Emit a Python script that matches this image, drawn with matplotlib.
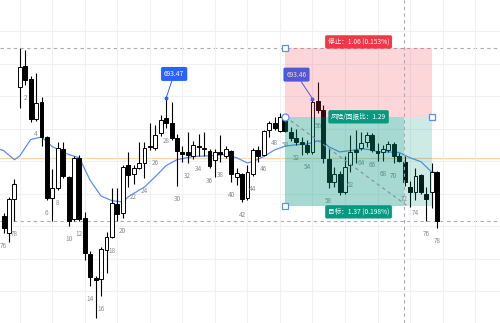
import matplotlib.pyplot as plt
from matplotlib.patches import Rectangle

plt.rcParams['font.family'] = ['Noto Sans CJK SC', 'DejaVu Sans']

# bar counter shown under the candles (last bars of previous session, then 1..78)
bar_num = [76, 77, 78] + list(range(1, 79))
hidden_nums = [60]  # covered by the target label in the reference

opens = [691.66, 691.40, 691.92, 693.64, 693.96, 693.76, 693.15, 693.41, 692.87, 691.93,
         692.09, 692.69, 692.26, 691.61, 692.55, 691.63, 691.07, 690.70, 690.69, 691.13,
         691.33, 691.84, 691.70, 692.44, 692.30, 692.40, 692.47, 692.72, 692.70, 692.93,
         693.16, 693.09, 692.86, 692.64, 692.64, 692.58, 692.73, 692.69, 692.66, 692.52,
         692.64, 692.58, 692.66, 692.26, 692.30, 691.93, 692.30, 692.67, 692.60, 692.98,
         693.09, 692.96, 693.16, 692.95, 692.86, 692.80, 692.75, 692.64, 693.43, 693.29,
         692.53, 692.17, 692.30, 692.03, 692.44, 692.67, 692.70, 692.80, 692.90, 692.66,
         692.64, 692.67, 692.76, 692.57, 692.49, 692.10, 692.03, 692.29, 692.00, 692.03,
         692.33]
highs = [691.70, 691.95, 692.23, 694.24, 694.21, 693.81, 693.86, 693.49, 692.89, 692.38,
         692.80, 692.80, 692.27, 692.58, 692.60, 691.72, 691.12, 690.73, 691.18, 691.41,
         692.09, 692.09, 692.44, 692.64, 692.44, 692.80, 692.80, 693.09, 693.06, 693.21,
         693.47, 693.41, 692.92, 692.73, 692.95, 692.81, 692.92, 692.95, 692.69, 692.69,
         692.90, 692.73, 692.67, 692.40, 692.32, 692.44, 692.70, 692.73, 692.98, 693.12,
         693.18, 693.24, 693.23, 693.03, 693.00, 692.87, 692.83, 693.46, 693.72, 693.36,
         692.70, 692.41, 692.35, 692.57, 692.90, 692.98, 692.95, 692.95, 692.93, 692.78,
         692.75, 692.81, 692.80, 692.63, 692.57, 692.20, 692.40, 692.30, 692.10, 692.47,
         692.35]
lows = [691.40, 691.26, 691.57, 693.32, 693.67, 693.10, 693.12, 692.73, 691.90, 691.58,
        692.06, 692.24, 691.50, 691.58, 691.57, 690.98, 690.58, 690.09, 690.43, 690.78,
        691.32, 691.57, 691.63, 692.10, 692.15, 692.37, 692.24, 692.67, 692.67, 692.89,
        693.01, 692.83, 692.12, 692.49, 692.47, 692.53, 692.58, 692.58, 692.40, 692.26,
        692.49, 692.55, 692.18, 692.13, 691.87, 691.90, 692.27, 692.49, 692.57, 692.87,
        692.98, 692.95, 692.95, 692.81, 692.75, 692.60, 692.61, 692.61, 693.24, 692.47,
        692.09, 692.10, 691.98, 692.00, 692.33, 692.47, 692.67, 692.72, 692.64, 692.50,
        692.50, 692.64, 692.47, 692.49, 692.12, 691.80, 691.90, 692.00, 691.58, 691.77,
        691.47]
closes = [691.47, 691.92, 692.15, 693.95, 693.75, 693.15, 693.40, 692.87, 691.93, 692.09,
          692.70, 692.27, 691.58, 692.55, 691.61, 691.09, 690.72, 690.67, 691.15, 691.33,
          691.86, 691.69, 692.41, 692.29, 692.40, 692.47, 692.70, 692.73, 692.90, 693.13,
          693.09, 692.86, 692.66, 692.61, 692.60, 692.75, 692.72, 692.70, 692.43, 692.64,
          692.61, 692.69, 692.30, 692.32, 691.92, 692.33, 692.67, 692.57, 692.96, 693.09,
          693.01, 693.18, 692.96, 692.86, 692.80, 692.76, 692.64, 693.41, 693.29, 692.55,
          692.18, 692.30, 692.03, 692.41, 692.64, 692.64, 692.78, 692.90, 692.67, 692.63,
          692.69, 692.76, 692.57, 692.50, 692.17, 692.03, 692.27, 692.03, 691.92, 692.33,
          691.58]

# moving average line, read at selected bars
ma_bar = [-1, 0, 2, 3, 5, 7, 9, 12, 14, 15, 16, 18, 20, 22, 23, 26, 28, 30, 32, 35,
          38, 41, 43, 45, 46, 48, 50, 52, 54, 56, 58, 59, 60, 62, 64, 66, 68, 69, 71, 73,
          75, 77, 78, 79, 80]
ma_val = [692.69, 692.66, 692.52, 692.58, 692.83, 692.87, 692.72, 692.60, 692.55, 692.37,
          692.20, 691.96, 691.89, 691.87, 691.95, 692.10, 692.26, 692.43, 692.52, 692.57,
          692.58, 692.60, 692.55, 692.47, 692.49, 692.57, 692.67, 692.73, 692.75, 692.76,
          692.81, 692.80, 692.72, 692.64, 692.66, 692.69, 692.67, 692.64, 692.64, 692.63,
          692.55, 692.49, 692.41, 692.33, 692.32]

# short position tool
entry = 693.18
stop = 694.24
target = 691.81
pos_start, pos_end = 52, 79
realized_end = 73.9

day_high = 694.24
ref_level = 691.58
orange_level = 692.55
bubble_bars = [30, 57]

fig = plt.figure(figsize=(5, 3.23), dpi=100)
ax = fig.add_axes([0, 0, 1, 1])
ax.set_xlim(-0.66, 91.6)
ax.set_ylim(690.008, 694.977)
for s in ax.spines.values():
    s.set_visible(False)
ax.set_xticks(range(3, 92, 6))
ax.set_yticks([690.5 + 0.5 * i for i in range(9)])
ax.tick_params(length=0, labelbottom=False, labelleft=False)
ax.grid(True, color='#f0f1f4', lw=0.8, zorder=0)

# reference lines
ax.axhline(orange_level, color='#fbd3a6', lw=0.9, zorder=1)
ax.axhline(day_high, color='#a9abb3', lw=0.8, ls=(0, (3, 3)), zorder=1)
ax.axhline(ref_level, color='#a9abb3', lw=0.8, ls=(0, (3, 3)), zorder=1)
ax.axvline(realized_end, color='#a9abb3', lw=0.8, ls=(0, (3, 3)), zorder=5)

ax.plot(ma_bar, ma_val, color='#5b8ff5', lw=0.9, zorder=2)

# candles
for i in range(len(opens)):
    o, h, l, c = opens[i], highs[i], lows[i], closes[i]
    ax.vlines(i, l, h, color='black', lw=0.8, zorder=3)
    up = c >= o
    ax.bar(i, max(abs(c - o), 0.012), bottom=min(o, c), width=0.72,
           color='white' if up else 'black', edgecolor='black', lw=0.7, zorder=3)
    if bar_num[i] % 2 == 0 and bar_num[i] not in hidden_nums:
        ax.annotate(str(bar_num[i]), (i, l), xytext=(0, -13), textcoords='offset pixels',
                    ha='center', va='center', fontsize=4.6, color='#8a8d96', zorder=3)

# price bubbles on highs
for b, dx in zip(bubble_bars, [8, -16]):
    ax.plot(b, highs[b], 'o', ms=1.8, color='#2962ff', zorder=3.5)
    ax.annotate(f'{highs[b]:.2f}', (b, highs[b]), xytext=(dx, 24), textcoords='offset pixels',
                ha='center', va='center', fontsize=4.8, color='white', zorder=3.5,
                bbox=dict(boxstyle='round,pad=0.45,rounding_size=0.25', fc='#2962ff', ec='none'),
                arrowprops=dict(arrowstyle='-', color='#2962ff', lw=0.7, shrinkA=0, shrinkB=0))

# position zones
w = pos_end - pos_start
ax.add_patch(Rectangle((pos_start, entry), w, stop - entry, fc='#f23645', alpha=0.2, ec='none', zorder=4))
ax.add_patch(Rectangle((pos_start, target), w, entry - target, fc='#089981', alpha=0.2, ec='none', zorder=4))
ax.add_patch(Rectangle((pos_start, target), realized_end - pos_start, entry - target,
                       fc='#089981', alpha=0.2, ec='none', zorder=4))
ax.plot([pos_start, realized_end + 0.6], [entry, target], color='#8a8d96', lw=0.8,
        ls=(0, (3, 3)), zorder=4.5)

for x, y, m in [(pos_start, stop, 's'), (pos_start, entry, 'o'), (pos_start, target, 's'), (pos_end, entry, 's')]:
    ax.plot(x, y, m, ms=5, mfc='white', mec='#5b8ff5', mew=0.9, zorder=6)

mid = (pos_start + pos_end) / 2
risk = stop - entry
reward = entry - target
box = dict(boxstyle='round,pad=0.4,rounding_size=0.25', ec='none')
ax.annotate(f'停止：{risk:.2f} ({risk / entry * 100:.3f}%)', (mid, stop), xytext=(0, 6),
            textcoords='offset pixels', ha='center', va='center', fontsize=4.8, color='white',
            bbox=dict(box, fc='#f23645'), zorder=6)
ax.annotate(f'风险/回报比：{reward / risk:.2f}', (mid, entry), ha='center', va='center',
            fontsize=4.8, color='white', bbox=dict(box, fc='#089981'), zorder=6)
ax.annotate(f'目标：{reward:.2f} ({reward / entry * 100:.3f}%)', (mid, target), xytext=(0, -6),
            textcoords='offset pixels', ha='center', va='center', fontsize=4.8, color='white',
            bbox=dict(box, fc='#089981'), zorder=6)

fig.savefig('out.png', dpi=100)
